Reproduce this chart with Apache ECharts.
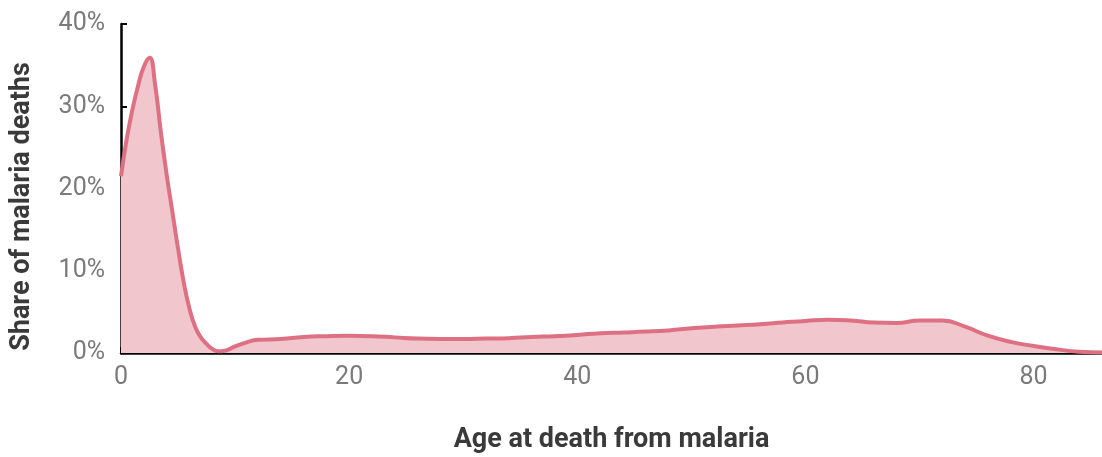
<!DOCTYPE html>
<html>
<head>
<meta charset="utf-8">
<title>Age at death from malaria</title>
<script src="https://cdn.jsdelivr.net/npm/echarts@6/dist/echarts.min.js"></script>
<style>
	html, body { margin: 0; padding: 0; background: #fff; }
	#chart { width: 1102px; height: 457px; }
</style>
</head>
<body>
<div id="chart"></div>
<script>
// 年龄（横轴）
const ages = [0, 0.5, 1, 1.5, 2, 2.5, 3, 3.5, 4, 4.5, 5, 5.5, 6, 6.5, 7, 7.5, 8, 8.5, 9, 10, 11, 12,
	14, 16, 18, 20, 22, 24, 26, 28, 30, 32, 34, 36, 38, 40, 42, 44, 46, 48, 50, 52, 54, 56, 58,
	60, 62, 64, 66, 68, 70, 72, 74, 76, 78, 80, 82, 84, 86];
// 死亡占比（%）
const shares = [21.5, 26, 29.6, 32.5, 34.8, 35.9, 32.5, 26.8, 21.7, 17.2, 12.7, 8.6, 5.4, 3.2, 1.9, 1.1, 0.5, 0.2, 0.25, 0.8, 1.3, 1.6,
	1.7, 1.95, 2.05, 2.1, 2.05, 1.9, 1.75, 1.7, 1.7, 1.75, 1.8, 1.95, 2.05, 2.2, 2.4, 2.5, 2.6, 2.75, 3.0, 3.2, 3.35, 3.5, 3.7,
	3.9, 4.05, 3.95, 3.7, 3.65, 3.95, 3.95, 3.2, 2.1, 1.35, 0.85, 0.45, 0.15, 0.05];
// 刻度
const xTicks = [0, 20, 40, 60, 80];
const yTicks = [0, 10, 20, 30, 40];

const labelFont = { color: '#7a7a7a', fontSize: 25, fontFamily: 'Roboto' };
const nameFont = { color: '#3a3a3a', fontSize: 27, fontWeight: 'bold', fontFamily: 'Roboto' };

let chart = echarts.init(document.getElementById('chart'));
chart.setOption({
	animation: false,
	grid: { left: 121, right: 0, top: 24, bottom: 104, outerBoundsMode: 'none' },
	xAxis: {
		type: 'value',
		min: 0,
		max: 86,
		interval: 20,
		name: 'Age at death from malaria',
		nameLocation: 'middle',
		nameGap: 74,
		nameTextStyle: nameFont,
		axisLine: { lineStyle: { color: '#000', width: 2.5 } },
		axisTick: { inside: true, length: 6, customValues: xTicks, lineStyle: { color: '#000', width: 2 } },
		axisLabel: Object.assign({ margin: 12, customValues: xTicks }, labelFont),
		splitLine: { show: false }
	},
	yAxis: {
		type: 'value',
		min: 0,
		max: 40,
		interval: 10,
		name: 'Share of malaria deaths',
		nameLocation: 'middle',
		nameGap: 85,
		nameTextStyle: Object.assign({ padding: [0, 36, 0, 0] }, nameFont),
		axisLine: { show: true, lineStyle: { color: '#000', width: 2.5 } },
		axisTick: { show: true, inside: true, length: 6, customValues: yTicks, lineStyle: { color: '#000', width: 2 } },
		axisLabel: Object.assign({ margin: 16, formatter: '{value}%', customValues: yTicks }, labelFont),
		splitLine: { show: false }
	},
	series: [{
		type: 'line',
		data: ages.map((a, i) => [a, shares[i]]),
		smooth: 0.5,
		symbol: 'none',
		clip: false,
		lineStyle: { color: '#dd7183', width: 4 },
		areaStyle: { color: '#f1c6cd', opacity: 1 }
	}]
});
</script>
</body>
</html>
